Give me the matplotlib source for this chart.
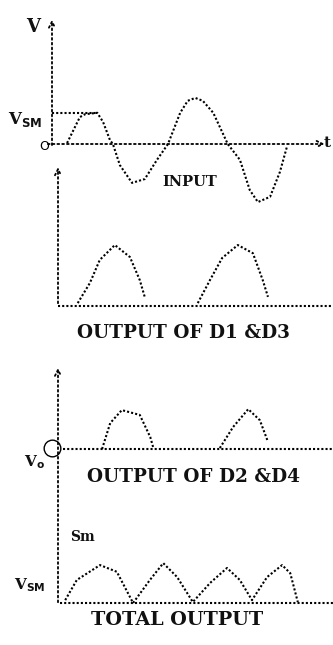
import matplotlib
matplotlib.use('Agg')
import matplotlib.pyplot as plt

W, H = 333, 645
PX_MS = 5.8   # horizontal pixels per millisecond
PX_V = 4.8    # vertical pixels per volt

# input voltage, time (ms) / volts
input_t = [2.6, 4.8, 5.7, 7.8, 8.8, 10.0, 10.5, 11.7, 13.8, 16.0, 18.1, 20.0,
           22.1, 23.4, 24.7, 26.0, 27.8, 30.3, 32.4, 34.1, 35.5, 37.6, 39.3, 40.5]
input_v = [0.2, 5.6, 6.2, 6.5, 4.6, 0.8, 0.0, -4.4, -8.1, -7.3, -3.3, 0.0,
           6.5, 9.0, 9.6, 9.0, 6.5, 0.0, -3.3, -9.6, -12.1, -11.0, -5.8, -0.6]
vsm_level = 6.5

# D1 & D3 output pulses
d13_t = [[3.4, 5.5, 7.2, 9.8, 12.4, 14.1, 15.0],
         [24.1, 26.2, 28.3, 31.0, 33.6, 35.3, 36.2]]
d13_v = [[0.6, 4.8, 9.6, 12.7, 10.2, 5.4, 1.7],
         [0.6, 5.4, 10.0, 12.7, 11.0, 5.4, 1.9]]

# D2 & D4 output pulses
d24_t = [[7.6, 9.0, 11.0, 14.1, 15.9, 16.4],
         [27.9, 30.2, 32.8, 34.8, 36.2]]
d24_v = [[0.0, 5.4, 8.1, 7.1, 2.5, 0.4],
         [0.2, 4.6, 8.3, 6.0, 1.5]]

# total output
total_t = [0.9, 2.9, 6.9, 9.8, 12.6, 15.5, 17.8, 20.2, 22.9, 25.9, 28.8,
           31.0, 33.1, 35.7, 38.3, 39.7, 41.0]
total_v = [0.6, 4.8, 7.9, 6.5, 0.0, 4.8, 8.3, 5.4, 0.2, 4.2, 7.3, 4.8,
           0.6, 5.4, 7.9, 6.2, 0.2]

fig = plt.figure(figsize=(W / 100, H / 100), dpi=100)

def panel(ox, oy):
    # full-figure axes whose data origin sits at pixel (ox, oy)
    ax = fig.add_axes([0, 0, 1, 1])
    ax.set_xlim(-ox / PX_MS, (W - ox) / PX_MS)
    ax.set_ylim((oy - H) / PX_V, oy / PX_V)
    ax.axis('off')
    ax.patch.set_alpha(0)
    return ax

dot = dict(color='black', lw=1.5, ls=(0, (1, 1)))
lbl = dict(family='DejaVu Serif', weight='bold', color='#111111',
           ha='center', va='center')

def arrow(ax, x0, y0, x1, y1):
    ax.annotate('', xy=(x1, y1), xytext=(x0, y0),
                arrowprops=dict(arrowstyle='->', lw=1.3, ls=':',
                                color='black', mutation_scale=11))

# input
ax1 = panel(52, 144)
arrow(ax1, 0, -0.8, 0, 26.5)
arrow(ax1, -1.2, 0, 47.5, 0)
ax1.plot([0, 7.8], [vsm_level, vsm_level], **dot)
ax1.plot(input_t, input_v, **dot)
ax1.text(-3.2, 24.4, 'V', fontsize=13, **lbl)
ax1.text(-4.7, 5.2, 'V$_{\\mathbf{SM}}$', fontsize=12, **lbl)
ax1.text(-1.3, -0.5, 'O', fontsize=9, family='DejaVu Sans', color='black',
         ha='center', va='center')
ax1.text(47.4, 0.3, 't', fontsize=11, **lbl)
ax1.text(23.8, -8.0, 'INPUT', fontsize=10.5, **lbl)

# D1 & D3
ax2 = panel(58, 306)
arrow(ax2, 0, 0, 0, 29.5)
ax2.plot([0, (W - 58) / PX_MS], [0, 0], **dot)
for t, v in zip(d13_t, d13_v):
    ax2.plot(t, v, **dot)
ax2.text(21.6, -5.6, 'OUTPUT OF D1 &D3', fontsize=13.3, **lbl)

# D2 & D4
ax3 = panel(58, 449)
arrow(ax3, 0, -32.5, 0, 17.5)
ax3.plot([0.8, (W - 58) / PX_MS], [0, 0], **dot)
for t, v in zip(d24_t, d24_v):
    ax3.plot(t, v, **dot)
ax3.plot([-1.0], [0.2], marker='o', ms=12, mfc='none', mec='black',
         mew=1.0, ls='none')
ax3.text(-4.0, -2.8, 'V$_{\\mathbf{o}}$', fontsize=11, **lbl)
ax3.text(23.4, -5.9, 'OUTPUT OF D2 &D4', fontsize=13.3, **lbl)

# total output
ax4 = panel(60, 603)
ax4.plot([0, (W - 60) / PX_MS], [0, 0], **dot)
ax4.plot(total_t, total_v, **dot)
ax4.text(3.9, 13.8, 'Sm', fontsize=10, **lbl)
ax4.text(-5.2, 3.8, 'V$_{\\mathbf{SM}}$', fontsize=11, **lbl)
ax4.text(20.2, -3.5, 'TOTAL OUTPUT', fontsize=13.8, **lbl)

fig.savefig('out.png', dpi=100, facecolor='white')
